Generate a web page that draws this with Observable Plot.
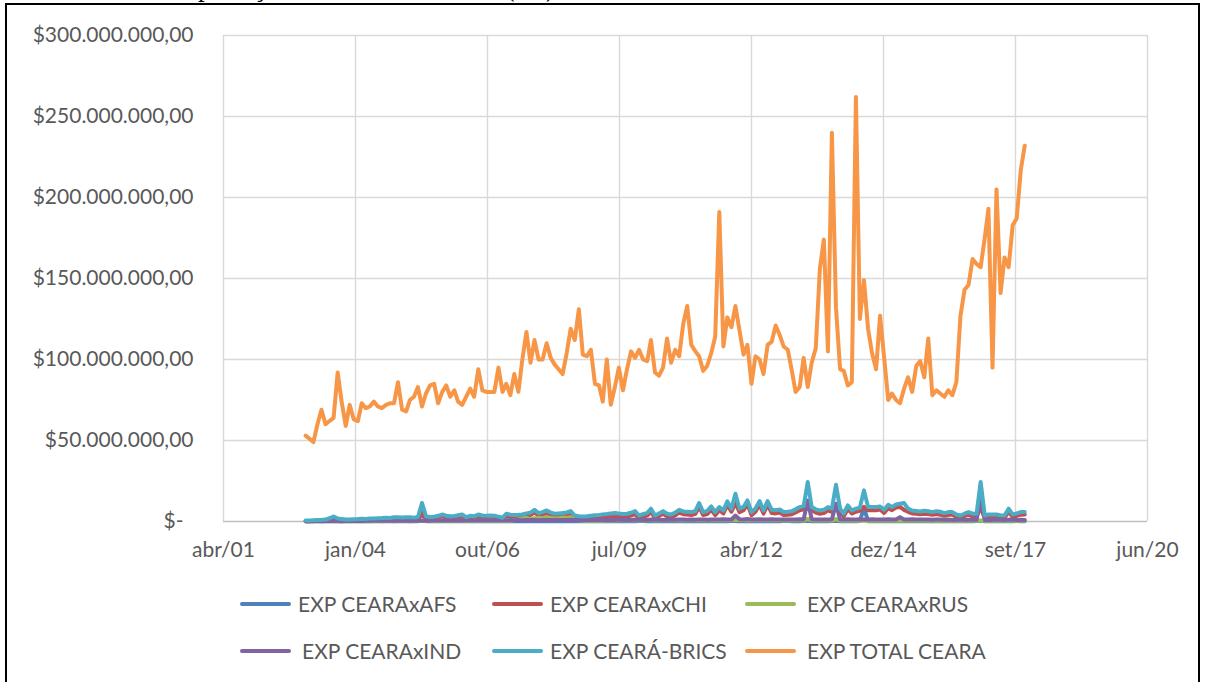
<!DOCTYPE html>
<html>
<head>
<meta charset="utf-8">
<script src="https://cdn.jsdelivr.net/npm/d3@7"></script>
<script src="https://cdn.jsdelivr.net/npm/@observablehq/plot@0.6"></script>
<style>
  html, body { margin: 0; padding: 0; background: #fff; }
  #wrap { position: relative; width: 1210px; height: 682px; overflow: hidden; background: #fff; }
  #frame { position: absolute; left: 5px; top: 3px; width: 1195px; height: 720px; border: 2px solid #000; border-bottom: none; box-sizing: border-box; pointer-events: none; }
  #title { position: absolute; left: 168px; top: -26px; font: 27px/27px "Liberation Serif", serif; color: #000; white-space: nowrap; }
  #chart { position: absolute; left: 0; top: 0; }
  #legend { position: absolute; left: 240px; top: 591px; display: grid; grid-template-columns: 252px 253px 260px; row-gap: 22px; font-family: Lato, sans-serif; font-size: 21px; color: #595959; }
  .item { display: flex; align-items: center; height: 25px; white-space: nowrap; }
  .swatch { width: 51px; height: 4px; border-radius: 2px; margin-right: 7px; flex: none; }
  .item.wide .swatch { margin-right: 11px; }
</style>
</head>
<body>
<div id="wrap">
  <div id="title">Exportações mensais do Ceará (R$)</div>
  <div id="chart"></div>
  <div id="legend"></div>
  <div id="frame"></div>
</div>
<script>
// ---- Data (values in millions of R$), monthly Jan 2003 – Dec 2017 ----
const firstMonth = "2003-01-01";
const lastMonthExclusive = "2018-01-01";

const seriesNames = ["EXP CEARAxAFS", "EXP CEARAxCHI", "EXP CEARAxRUS", "EXP CEARAxIND", "EXP CEARÁ-BRICS", "EXP TOTAL CEARA"];
const seriesColors = ["#4F81BD", "#C0504D", "#9BBB59", "#8064A2", "#4BACC6", "#F79646"];

const expAFS = [
  0.1,0.1,0.1,0.2,0.1,0.1,0.2,0.1,0.1,0.2,0.1,0.1,
  0.1,0.2,0.1,0.1,0.2,0.1,0.2,0.1,0.2,0.1,0.2,0.1,
  0.2,0.1,0.2,0.1,0.2,5.6,0.2,0.1,0.2,0.2,0.1,0.2,
  0.2,0.2,0.1,0.2,0.2,0.2,0.1,0.2,0.2,0.1,0.2,0.2,
  0.2,0.1,0.2,0.2,0.1,0.2,0.2,0.3,0.2,0.2,0.3,0.2,
  0.2,0.3,0.2,0.2,0.3,0.2,0.2,0.2,0.3,0.2,0.2,0.3,
  0.2,0.2,0.3,0.2,0.2,0.3,0.2,0.2,0.3,0.2,0.2,0.3,
  0.3,0.2,0.2,0.3,0.2,0.3,0.2,0.3,0.2,0.2,0.3,0.2,
  0.3,0.2,0.3,0.2,0.3,0.2,0.3,0.2,0.3,0.2,0.3,0.3,
  0.2,0.3,0.2,0.3,0.2,0.3,0.2,0.3,0.2,0.3,0.2,0.3,
  0.3,0.2,0.3,0.2,0.3,0.4,0.2,0.3,0.2,0.3,0.2,0.3,
  0.4,0.2,0.3,0.2,0.3,0.2,0.3,8.5,0.2,0.3,0.2,0.3,
  0.2,0.3,0.2,0.3,0.2,0.3,0.2,0.3,0.2,0.3,0.2,0.3,
  0.2,0.2,0.3,0.2,0.2,0.3,0.2,0.2,0.3,0.2,0.2,0.3,
  0.4,0.2,0.2,0.3,0.2,0.2,0.3,0.2,0.2,0.3,0.2,0.2
];
const expCHI = [
  0.2,0.2,0.2,0.4,0.5,0.6,1.3,2.5,1.2,1.0,0.6,0.6,
  0.8,0.7,1.0,0.9,0.9,1.1,1.1,1.3,1.3,1.4,1.7,1.8,
  1.5,1.8,1.7,1.5,1.7,5.0,2.0,1.9,1.8,2.3,3.3,2.3,
  2.0,2.2,2.6,3.0,1.6,2.1,1.8,3.0,2.3,2.1,2.3,2.1,
  2.0,1.5,3.5,3.0,2.8,2.8,3.0,3.5,4.0,5.5,3.8,4.2,
  5.0,4.0,3.4,3.5,3.8,4.1,4.8,2.4,2.0,1.8,1.9,2.2,
  2.3,2.5,2.8,3.0,3.4,3.6,3.2,3.1,3.1,3.7,4.6,2.1,
  3.0,3.6,6.0,2.1,3.4,4.8,3.2,2.7,3.8,5.5,4.5,4.3,
  4.0,4.7,9.2,4.0,4.6,7.3,3.9,7.0,5.0,10.3,6.0,11.5,
  5.8,7.0,10.8,3.9,6.0,10.4,4.9,10.4,5.2,5.0,5.5,4.0,
  4.2,4.5,5.6,6.9,7.5,9.5,6.9,5.5,4.8,5.2,6.9,6.0,
  10.0,5.8,3.2,7.9,4.9,6.0,6.6,9.0,7.0,7.0,7.0,7.4,
  5.3,8.3,7.0,8.6,9.0,7.2,6.0,5.0,4.7,4.4,4.8,4.6,
  4.1,4.6,4.2,3.5,4.1,4.2,2.8,2.2,3.3,4.2,3.2,3.3,
  8.5,2.2,2.8,2.8,2.8,2.4,2.2,6.2,2.7,3.5,4.2,4.3
];
const expRUS = [
  0.1,0.1,0.2,0.1,0.2,0.2,0.1,0.2,0.2,0.1,0.2,0.2,
  0.2,0.2,0.3,0.2,0.2,0.3,0.3,0.2,0.3,0.3,0.2,0.3,
  0.3,0.3,0.2,0.3,0.3,0.3,0.4,0.3,0.3,0.4,0.3,0.4,
  0.4,0.3,0.4,0.4,0.3,0.4,0.5,0.4,0.4,0.5,0.4,0.5,
  0.5,0.4,0.6,0.5,0.8,1.2,1.8,2.2,1.6,2.0,2.4,2.0,
  2.6,2.2,1.8,2.0,2.4,2.2,2.6,1.2,0.8,0.6,0.5,0.6,
  0.5,0.6,0.5,0.6,0.7,0.6,0.8,0.7,0.6,0.7,0.8,0.7,
  0.7,0.8,0.9,0.6,0.8,0.9,0.7,0.8,0.9,0.8,0.7,0.8,
  0.8,0.7,0.9,0.8,0.7,0.8,0.9,0.7,0.8,0.9,0.8,1.0,
  0.9,0.8,0.7,0.8,0.9,0.8,0.7,0.8,0.9,0.7,0.8,0.6,
  0.7,0.6,0.8,0.7,0.6,1.6,0.7,0.6,0.7,0.6,0.7,0.6,
  1.5,0.6,0.5,0.6,0.5,0.6,0.5,0.6,0.5,0.6,0.5,0.6,
  0.5,0.6,0.5,0.4,0.5,0.4,0.5,0.4,0.5,0.4,0.5,0.4,
  0.4,0.5,0.4,0.4,0.5,0.4,0.4,0.5,0.4,0.4,0.5,0.4,
  0.5,0.4,0.4,0.5,0.4,0.4,0.5,0.4,0.4,0.5,0.4,0.4
];
const expIND = [
  0.2,0.2,0.3,0.3,0.2,0.3,0.4,0.3,0.3,0.2,0.3,0.3,
  0.3,0.4,0.3,0.4,0.5,0.4,0.4,0.5,0.5,0.4,0.5,0.5,
  0.5,0.4,0.6,0.5,0.6,0.5,0.6,0.5,0.7,0.6,0.6,0.7,
  0.6,0.7,0.6,0.7,0.6,0.8,0.7,0.7,0.8,0.7,0.8,0.8,
  0.8,0.7,0.8,0.9,0.8,0.9,0.8,0.9,1.0,0.9,0.8,0.9,
  0.9,1.0,0.9,1.0,0.9,1.0,1.1,0.9,1.0,0.9,1.0,1.1,
  1.0,1.1,1.0,0.9,1.1,1.0,1.2,1.0,1.1,1.0,1.2,1.1,
  1.1,1.0,1.2,1.1,1.2,1.0,1.1,1.2,1.1,1.3,1.2,1.1,
  1.2,1.1,1.3,1.2,1.1,1.2,1.3,1.2,1.4,1.3,1.2,3.7,
  1.4,1.2,1.5,1.3,1.2,1.4,1.3,1.2,1.4,1.3,1.2,1.3,
  1.2,1.3,1.2,1.4,1.3,13.0,1.4,1.2,1.3,1.2,1.3,1.4,
  11.0,1.3,1.2,1.4,1.3,1.2,1.4,1.3,1.2,1.4,1.3,1.2,
  1.3,1.4,1.2,1.3,2.7,1.3,1.2,1.4,1.3,1.2,1.3,1.2,
  1.1,1.2,1.3,1.1,1.2,1.0,1.1,1.2,1.0,1.1,1.2,1.0,
  15.0,1.0,1.1,1.0,1.2,1.1,1.0,1.1,1.2,1.0,1.1,1.0
];
const expBRICS = [
  0.6,0.6,0.8,1.0,1.0,1.2,2.0,3.1,1.8,1.5,1.2,1.2,
  1.4,1.5,1.7,1.6,1.8,1.9,2.0,2.1,2.3,2.2,2.6,2.7,
  2.5,2.6,2.7,2.4,2.8,11.4,3.2,2.8,3.0,3.5,4.3,3.6,
  3.2,3.4,3.8,4.3,2.7,3.5,3.2,4.3,3.7,3.5,3.7,3.6,
  3.0,2.3,4.8,4.2,4.0,4.1,4.3,5.0,5.5,7.2,5.2,5.8,
  6.8,5.5,4.8,5.0,5.2,5.6,6.4,3.7,3.3,3.1,3.2,3.5,
  3.8,4.0,4.3,4.6,5.0,5.2,4.9,4.7,4.8,5.4,6.4,3.7,
  4.6,5.2,7.9,3.7,5.0,6.4,4.8,4.3,5.5,7.2,6.2,6.0,
  5.8,6.5,11.4,5.8,6.5,9.3,5.8,8.9,6.8,12.4,7.9,17.1,
  7.9,9.0,13.0,5.8,8.0,12.6,6.8,12.6,7.2,7.0,7.4,5.8,
  6.0,6.4,7.5,8.9,9.5,24.4,8.9,7.5,6.8,7.2,8.9,8.0,
  22.7,7.9,5.0,9.9,6.8,7.9,8.5,19.2,8.9,8.9,8.9,9.3,
  7.2,10.3,8.9,10.5,11.0,11.4,7.9,6.8,6.5,6.2,6.6,6.4,
  5.8,6.4,6.0,5.2,5.8,5.8,4.3,3.7,4.8,5.8,4.8,4.8,
  24.4,3.7,4.3,4.3,4.3,3.9,3.7,7.9,4.3,5.0,5.8,5.8
];
const expTOTAL = [
  53,51,49,60,69,60,62,64,92,74,59,72,
  63,62,73,70,71,74,71,70,72,73,73,86,
  69,68,75,77,83,71,79,84,85,73,80,84,
  77,81,74,72,77,82,77,94,81,80,80,80,
  95,80,85,78,91,80,100,117,98,112,100,100,
  110,101,97,94,91,104,119,112,131,103,102,106,
  85,84,74,100,72,83,95,81,94,105,101,106,
  100,99,112,92,90,95,113,98,106,102,122,133,
  109,105,102,93,96,104,114,191,108,126,120,133,
  118,103,109,85,102,100,91,109,111,121,115,108,
  106,93,80,83,101,83,98,107,156,174,105,240,
  132,94,93,84,86,262,125,149,119,104,94,127,
  101,75,79,75,73,82,89,80,96,99,89,113,
  78,81,79,77,81,78,86,127,143,146,162,159,
  157,175,193,95,205,141,163,157,183,187,217,232
];
const seriesValues = [expAFS, expCHI, expRUS, expIND, expBRICS, expTOTAL];

// Axis ticks (Excel date serials) and their labels
const xTickSerials = [37000, 38000, 39000, 40000, 41000, 42000, 43000, 44000];
const xTickLabels = ["abr/01", "jan/04", "out/06", "jul/09", "abr/12", "dez/14", "set/17", "jun/20"];
const yTicks = [0, 50, 100, 150, 200, 250, 300];

// ---- Build ----
const fromSerial = s => new Date(Date.UTC(1899, 11, 30) + s * 864e5);
const months = d3.utcMonth.range(new Date(firstMonth), new Date(lastMonthExclusive));
const xTicks = xTickSerials.map(fromSerial);
const xLabelMap = new Map(xTicks.map((d, i) => [+d, xTickLabels[i]]));
const locale = d3.formatLocale({decimal: ",", thousands: ".", grouping: [3], currency: ["$", ""]});
const money = locale.format("$,.2f");

const seriesData = seriesNames.map((name, k) =>
  months.map((date, i) => ({date, value: seriesValues[k][i], series: name}))
);

const chart = Plot.plot({
  width: 1210,
  height: 578,
  marginLeft: 223,
  marginRight: 63,
  marginTop: 35,
  marginBottom: 57,
  style: {fontFamily: "Lato, sans-serif", fontSize: "21px", color: "#595959", background: "transparent", overflow: "visible"},
  x: {type: "utc", domain: [fromSerial(xTickSerials[0]), fromSerial(xTickSerials[xTickSerials.length - 1])]},
  y: {domain: [yTicks[0], yTicks[yTicks.length - 1]]},
  marks: [
    Plot.gridX(xTicks, {stroke: "#D9D9D9", strokeOpacity: 1, strokeWidth: 1.4}),
    Plot.gridY(yTicks.filter(d => d > 0), {stroke: "#D9D9D9", strokeOpacity: 1, strokeWidth: 1.4}),
    Plot.ruleY([0], {stroke: "#BFBFBF", strokeWidth: 1.4}),
    Plot.axisX(xTicks, {tickSize: 0, tickPadding: 21, tickFormat: d => xLabelMap.get(+d), label: null, fill: "#595959"}),
    Plot.axisY(yTicks.filter(d => d > 0), {tickSize: 0, tickPadding: 30, tickFormat: d => money(d * 1e6), label: null, fill: "#595959"}),
    Plot.axisY([0], {tickSize: 0, tickPadding: 40, tickFormat: () => "$-", label: null, fill: "#595959"}),
    ...seriesData.map((rows, k) =>
      Plot.lineY(rows, {x: "date", y: "value", stroke: seriesColors[k], strokeWidth: 4, strokeLinejoin: "round", strokeLinecap: "round"})
    )
  ]
});
document.getElementById("chart").appendChild(chart);

// Legend (HTML, below the SVG), order: row 1 AFS, CHI, RUS; row 2 IND, BRICS, TOTAL
const legend = document.getElementById("legend");
seriesNames.forEach((name, k) => {
  const item = document.createElement("div");
  item.className = "item" + (k === 2 || k === 3 || k === 5 ? " wide" : "");
  const sw = document.createElement("span");
  sw.className = "swatch";
  sw.style.background = seriesColors[k];
  const label = document.createElement("span");
  label.textContent = name;
  item.appendChild(sw);
  item.appendChild(label);
  legend.appendChild(item);
});
</script>
</body>
</html>
